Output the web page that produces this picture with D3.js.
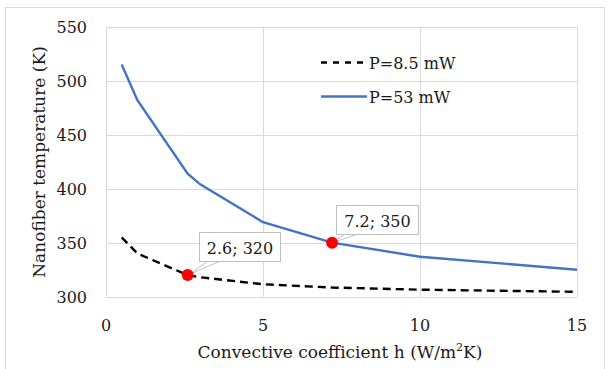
<!DOCTYPE html>
<meta charset='utf-8'>
<style>
body { margin: 0; background: #fff; }
text { font-family: 'DejaVu Serif', serif; fill: #1a1a1a; }
.grid line { stroke: #d9d9d9; stroke-width: 1; }
</style>
<svg width='611' height='369'></svg>
<script src='https://d3js.org/d3.v7.min.js'></script>
<script>

// data
var hValues = [0.5, 1, 2.6, 3, 5, 7.2, 10, 15];
var tLow = [355, 340, 320, 318, 311.5, 308.5, 306.5, 304.5];   // P=8.5 mW
var tHigh = [515, 482, 414, 404, 369, 350, 337, 325];          // P=53 mW
var seriesNames = ['P=8.5 mW', 'P=53 mW'];
var xTicks = [0, 5, 10, 15];
var yTicks = [300, 350, 400, 450, 500, 550];
var callouts = [
  { h: 2.6, t: 320, label: '2.6; 320', series: 0 },
  { h: 7.2, t: 350, label: '7.2; 350', series: 1 }
];

var svg = d3.select('svg');

var plotL = 106, plotR = 577, plotT = 26.7, plotB = 296.7;

var x = d3.scaleLinear().domain([0, 15]).range([plotL, plotR]);
var y = d3.scaleLinear().domain([300, 550]).range([plotB, plotT]);

// outer chart border
svg.append('rect')
  .attr('x', 5.5).attr('y', 7.5)
  .attr('width', 599).attr('height', 370)
  .attr('fill', 'none')
  .attr('stroke', '#d9d9d9');

// grid
var grid = svg.append('g').attr('class', 'grid');
grid.selectAll('.gx')
  .data(xTicks)
  .enter().append('line')
    .attr('x1', d => Math.round(x(d)) + 0.5).attr('x2', d => Math.round(x(d)) + 0.5)
    .attr('y1', plotT).attr('y2', plotB);
grid.selectAll('.gy')
  .data(yTicks)
  .enter().append('line')
    .attr('x1', plotL).attr('x2', plotR)
    .attr('y1', d => Math.round(y(d)) + 0.5).attr('y2', d => Math.round(y(d)) + 0.5);

// tick labels
svg.selectAll('.xt')
  .data(xTicks)
  .enter().append('text')
    .attr('x', d => x(d))
    .attr('y', 331)
    .attr('text-anchor', 'middle')
    .style('font-size', '16px')
    .text(d => d);

svg.selectAll('.yt')
  .data(yTicks)
  .enter().append('text')
    .attr('x', 87)
    .attr('y', d => y(d) + 6)
    .attr('text-anchor', 'end')
    .style('font-size', '16px')
    .text(d => d);

// axis titles
var xt = svg.append('text')
  .attr('x', 340)
  .attr('y', 358)
  .attr('text-anchor', 'middle')
  .style('font-size', '17px');
xt.append('tspan').text('Convective coefficient h (W/m');
xt.append('tspan').attr('dy', -7).style('font-size', '11px').text('2');
xt.append('tspan').attr('dy', 7).text('K)');

svg.append('text')
  .attr('transform', 'translate(45,162) rotate(-90)')
  .attr('text-anchor', 'middle')
  .style('font-size', '17px')
  .text('Nanofiber temperature (K)');

// lines
var line = d3.line()
  .x((d, i) => x(hValues[i]))
  .y(d => y(d));

svg.append('path')
  .datum(tLow)
  .attr('d', line)
  .attr('fill', 'none')
  .attr('stroke', '#000')
  .attr('stroke-width', 2.4)
  .attr('stroke-dasharray', '8,5');

svg.append('path')
  .datum(tHigh)
  .attr('d', line)
  .attr('fill', 'none')
  .attr('stroke', '#4472c4')
  .attr('stroke-width', 2.4);

// legend
var legend = svg.append('g');
var legendY = [62.5, 96.5];
legend.selectAll('line')
  .data(seriesNames)
  .enter().append('line')
    .attr('x1', 321).attr('x2', 367)
    .attr('y1', (d, i) => legendY[i]).attr('y2', (d, i) => legendY[i])
    .attr('stroke', (d, i) => i === 0 ? '#000' : '#4472c4')
    .attr('stroke-width', 2.4)
    .attr('stroke-dasharray', (d, i) => i === 0 ? '6,6' : null);
legend.selectAll('text')
  .data(seriesNames)
  .enter().append('text')
    .attr('x', 369)
    .attr('y', (d, i) => legendY[i] + 6)
    .style('font-size', '16px')
    .text(d => d);

// callouts
var boxes = [
  { x0: 199.5, y0: 232.5, w: 81, h: 29 },
  { x0: 336.5, y0: 205.5, w: 82, h: 29 }
];
callouts.forEach(function(c, i) {
  var b = boxes[i];
  var px = x(c.h), py = y(c.t);
  svg.append('path')
    .attr('d', 'M' + (b.x0 + 8) + ',' + (b.y0 + b.h) + 'L' + px + ',' + py + 'L' + (b.x0 + 20) + ',' + (b.y0 + b.h))
    .attr('fill', '#fff')
    .attr('stroke', '#bfbfbf')
    .attr('stroke-width', 1);
  svg.append('rect')
    .attr('x', b.x0).attr('y', b.y0)
    .attr('width', b.w).attr('height', b.h)
    .attr('fill', '#fff')
    .attr('stroke', '#bfbfbf');
  svg.append('text')
    .attr('x', b.x0 + b.w / 2)
    .attr('y', b.y0 + 21)
    .attr('text-anchor', 'middle')
    .style('font-size', '16px')
    .text(c.label);
  svg.append('circle')
    .attr('cx', px).attr('cy', py)
    .attr('r', 6)
    .attr('fill', '#ff0000');
});

</script>
